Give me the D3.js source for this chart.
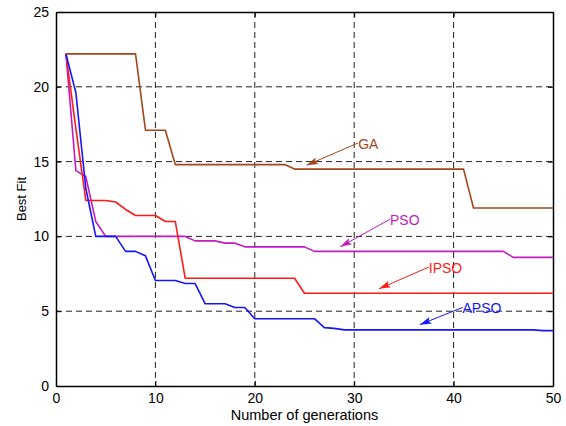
<!DOCTYPE html>
<html lang="en">
<head>
    <meta charset="UTF-8">
    <title>Best Fit vs generations</title>
    <script src="https://cdn.jsdelivr.net/npm/d3@7/dist/d3.min.js"></script>
    <style>
        body { margin: 0; background: #fff; }
        text { font-family: "Liberation Sans", Arial, Helvetica, sans-serif; }
    </style>
</head>
<body>
<svg id="main" width="566" height="426"></svg>
<script>
    // generations 1..50
    const generations = d3.range(1, 51);

    const gaValues = [22.2, 22.2, 22.2, 22.2, 22.2, 22.2, 22.2, 22.2, 17.1, 17.1,
        17.1, 14.8, 14.8, 14.8, 14.8, 14.8, 14.8, 14.8, 14.8, 14.8,
        14.8, 14.8, 14.8, 14.5, 14.5, 14.5, 14.5, 14.5, 14.5, 14.5,
        14.5, 14.5, 14.5, 14.5, 14.5, 14.5, 14.5, 14.5, 14.5, 14.5,
        14.5, 11.9, 11.9, 11.9, 11.9, 11.9, 11.9, 11.9, 11.9, 11.9];

    const psoValues = [22.2, 14.4, 14.0, 11.0, 10.0, 10.0, 10.0, 10.0, 10.0, 10.0,
        10.0, 10.0, 10.0, 9.7, 9.7, 9.7, 9.55, 9.55, 9.3, 9.3,
        9.3, 9.3, 9.3, 9.3, 9.3, 9.0, 9.0, 9.0, 9.0, 9.0,
        9.0, 9.0, 9.0, 9.0, 9.0, 9.0, 9.0, 9.0, 9.0, 9.0,
        9.0, 9.0, 9.0, 9.0, 9.0, 8.6, 8.6, 8.6, 8.6, 8.6];

    const ipsoValues = [22.2, 17.2, 12.4, 12.4, 12.4, 12.3, 11.8, 11.4, 11.4, 11.4,
        11.0, 11.0, 7.2, 7.2, 7.2, 7.2, 7.2, 7.2, 7.2, 7.2,
        7.2, 7.2, 7.2, 7.2, 6.2, 6.2, 6.2, 6.2, 6.2, 6.2,
        6.2, 6.2, 6.2, 6.2, 6.2, 6.2, 6.2, 6.2, 6.2, 6.2,
        6.2, 6.2, 6.2, 6.2, 6.2, 6.2, 6.2, 6.2, 6.2, 6.2];

    const apsoValues = [22.2, 19.6, 13.2, 10.0, 10.0, 10.0, 9.0, 9.0, 8.7, 7.05,
        7.05, 7.05, 6.85, 6.85, 5.5, 5.5, 5.5, 5.25, 5.25, 4.5,
        4.5, 4.5, 4.5, 4.5, 4.5, 4.5, 3.9, 3.85, 3.75, 3.75,
        3.75, 3.75, 3.75, 3.75, 3.75, 3.75, 3.75, 3.75, 3.75, 3.75,
        3.75, 3.75, 3.75, 3.75, 3.75, 3.75, 3.75, 3.75, 3.7, 3.7];

    const seriesNames = ['GA', 'PSO', 'IPSO', 'APSO'];
    const seriesColors = ['#a3461c', '#c21bc2', '#ff1a1a', '#1414ff'];
    const seriesValues = [gaValues, psoValues, ipsoValues, apsoValues];

    // label anchor (left of text) and arrow tip, in data units
    const labelX = [30.4, 33.6, 37.5, 40.9];
    const labelY = [16.25, 11.15, 7.95, 5.25];
    const tipX = [25.2, 28.6, 32.5, 36.6];
    const tipY = [14.75, 9.3, 6.5, 4.1];

    const xTicks = [0, 10, 20, 30, 40, 50];
    const yTicks = [0, 5, 10, 15, 20, 25];

    let svg = d3.select('svg#main');
    let margin = {top: 12, right: 13, bottom: 40, left: 56};
    let width = 566 - margin.left - margin.right;
    let height = 426 - margin.top - margin.bottom;

    let g = svg.append('g')
        .attr('transform', 'translate(' + margin.left + ',' + margin.top + ')');

    let xScale = d3.scaleLinear().domain([0, 50]).range([0, width]);
    let yScale = d3.scaleLinear().domain([0, 25]).range([height, 0]);

    // grid
    g.selectAll('.gridx').data(xTicks.slice(1, -1))
        .enter().append('line')
        .attr('x1', d => xScale(d)).attr('x2', d => xScale(d))
        .attr('y1', 0).attr('y2', height)
        .attr('stroke', '#222').attr('stroke-width', 1)
        .attr('stroke-dasharray', '6,4');
    g.selectAll('.gridy').data(yTicks.slice(1, -1))
        .enter().append('line')
        .attr('y1', d => yScale(d)).attr('y2', d => yScale(d))
        .attr('x1', 0).attr('x2', width)
        .attr('stroke', '#222').attr('stroke-width', 1)
        .attr('stroke-dasharray', '6,4');

    // axes
    let xAxis = d3.axisBottom(xScale).tickValues(xTicks).tickSizeInner(-5).tickSizeOuter(0).tickPadding(7);
    let yAxis = d3.axisLeft(yScale).tickValues(yTicks).tickSizeInner(-5).tickSizeOuter(0).tickPadding(7);
    let xTop = d3.axisTop(xScale).tickValues(xTicks).tickSizeInner(-5).tickSizeOuter(0).tickFormat('');
    let yRight = d3.axisRight(yScale).tickValues(yTicks).tickSizeInner(-5).tickSizeOuter(0).tickFormat('');

    g.append('g').attr('transform', 'translate(0,' + height + ')').call(xAxis);
    g.append('g').call(yAxis);
    g.append('g').call(xTop);
    g.append('g').attr('transform', 'translate(' + width + ',0)').call(yRight);

    g.selectAll('.domain').attr('stroke', '#000').attr('stroke-width', 1.5);
    g.selectAll('.tick line').attr('stroke', '#000');
    g.selectAll('.tick text').attr('font-size', 14).attr('fill', '#000')
        .style('font-family', '"Liberation Sans", Arial, sans-serif');

    // lines
    let line = d3.line()
        .x((d, i) => xScale(generations[i]))
        .y(d => yScale(d));

    g.selectAll('.series').data(seriesValues)
        .enter().append('path')
        .attr('fill', 'none')
        .attr('stroke', (d, i) => seriesColors[i])
        .attr('stroke-width', 1.6)
        .attr('stroke-linejoin', 'round')
        .attr('d', line);

    // arrow markers
    let defs = svg.append('defs');
    seriesColors.forEach(function (c, i) {
        defs.append('marker')
            .attr('id', 'arrow' + i)
            .attr('viewBox', '0 0 10 6')
            .attr('refX', 10).attr('refY', 3)
            .attr('markerWidth', 12).attr('markerHeight', 7)
            .attr('markerUnits', 'userSpaceOnUse')
            .attr('orient', 'auto')
            .append('path')
            .attr('d', 'M0,0 L10,3 L0,6 L2,3 Z')
            .attr('fill', c);
    });

    let notes = g.selectAll('.note').data(seriesNames)
        .enter().append('g');

    notes.append('line')
        .attr('x1', (d, i) => xScale(labelX[i]))
        .attr('y1', (d, i) => yScale(labelY[i]))
        .attr('x2', (d, i) => xScale(tipX[i]))
        .attr('y2', (d, i) => yScale(tipY[i]))
        .attr('stroke', (d, i) => seriesColors[i])
        .attr('stroke-width', 1)
        .attr('marker-end', (d, i) => 'url(#arrow' + i + ')');

    notes.append('text')
        .attr('x', (d, i) => xScale(labelX[i]))
        .attr('y', (d, i) => yScale(labelY[i]) + 6)
        .attr('font-size', 14)
        .attr('fill', (d, i) => seriesColors[i])
        .text(d => d);

    // axis titles
    svg.append('text')
        .attr('x', margin.left + width / 2)
        .attr('y', 420)
        .attr('text-anchor', 'middle')
        .attr('font-size', 14.5)
        .text('Number of generations');

    svg.append('text')
        .attr('transform', 'translate(26,' + (margin.top + height / 2) + ') rotate(-90)')
        .attr('text-anchor', 'middle')
        .attr('font-size', 13)
        .text('Best Fit');
</script>
</body>
</html>
